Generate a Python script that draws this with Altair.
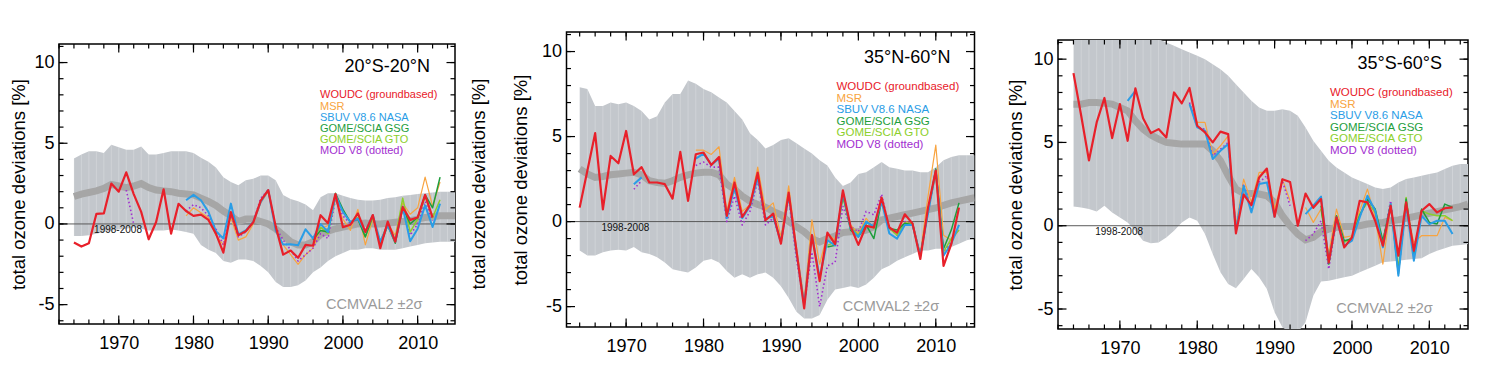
import altair as alt
import pandas as pd

FONT = "Liberation Sans"

Y_DOMAIN = [-6.2, 11.15]
X_LABELS = [1970, 1980, 1990, 2000, 2010]
Y_LABELS = [-5, 0, 5, 10]
X_MINOR = list(range(1962, 2015, 2))
X_MAJOR = [1970, 1980, 1990, 2000, 2010]
Y_MINOR = list(range(-6, 12))
Y_MAJOR = [-5, 0, 5, 10]
BAND_START = 1964

LEGEND = ["WOUDC (groundbased)", "MSR", "SBUV V8.6 NASA", "GOME/SCIA GSG",
          "GOME/SCIA GTO", "MOD V8 (dotted)"]
LEGEND_COLORS = ["#e8202a", "#f8a440", "#2a9de6", "#1e9e3c", "#8ccf2c", "#a22ed0"]
N = None

# ---------------- Panel 1: 20S-20N ----------------
p1_woudc = (1964, [-1.15, -1.4, -1.2, 0.62, 0.65, 2.5, 2.0, 3.2, 1.85, 0.75,
                   -0.95, 0.12, 2.15, -0.6, 1.25, 0.8, 0.5, 0.58, 0.25, -0.6,
                   -1.78, 0.74, -0.7, -0.45, 0.1, 1.45, 2.1, -0.15, -1.9, -1.65,
                   -2.1, -1.3, -1.35, 0.54, 0.05, 1.85, -0.2, -0.05, 0.65, -0.5,
                   0.55, -1.5, 0.15, -1.1, 1.05, 0.25, 0.4, 1.8, 0.4])
p1_msr = (1979, [0.5, 1.0, 0.7, 0.4, -0.7, -1.3, 0.4, -1.0, -0.8, 0.0,
                 1.3, 2.0, -0.2, -1.3, -1.9, -2.5, -1.9, -1.5, -0.3, -0.1,
                 1.5, 0.3, -0.4, 0.9, -1.3, 0.3, -1.1, 0.0, -0.7, 1.3,
                 0.6, 1.0, 2.9, 1.1, 2.6])
p1_sbuv = (1979, [1.47, 1.8, 1.47, 0.75, -0.45, -0.9, 1.26, -0.65, -0.4, 0.12,
                  1.36, 2.1, -0.4, -1.28, -1.26, -1.32, -0.33, -0.9, 0.0, -0.5,
                  1.8, 0.75, 0.12, 0.33, -0.5, 0.54, -1.1, -0.08, -1.1, 1.05,
                  -1.07, -0.3, 1.15, -0.19, 1.26])
p1_gsg = (1996, [-1.0, -0.4, -0.5, 1.9, 0.9, 0.1, 0.3, -0.8, 0.5, -1.3,
                 -0.1, -1.2, 1.0, 0.0, 0.4, 1.8, 1.0, 2.9])
p1_gto = (1996, [-0.9, -0.2, -0.6, 1.7, 0.8, 0.1, 0.4, -0.8, 0.4, -1.1,
                 0.0, -1.0, 1.6, -0.5, 0.3, 1.7, 0.4, 1.5])
p1_mod = (1971, [2.1, 0.0, N, N, N, N, N, N,
                 0.8, 1.2, 1.0, 0.5, -0.3, -1.3, 0.6, -0.8, -0.5, 0.1,
                 1.6, 2.1, -0.2, -1.0, -1.6, -2.3, -1.9, -1.5, -0.6, -0.9,
                 1.5, 0.5, 0.0, 0.3, -0.7, 0.4, -1.2, 0.0, -1.0, 1.1,
                 -0.7, 0.0, 1.4, 0.2])
p1_band_hi = [4.05, 4.3, 4.5, 4.5, 4.4, 4.9, 4.75, 4.6, 4.6, 4.8,
              4.3, 4.3, 4.4, 4.5, 4.5, 4.5, 4.4, 4.1, 3.85, 3.5,
              2.9, 2.6, 2.4, 2.7, 2.8, 3.0, 3.0, 2.7, 1.8, 1.55,
              1.4, 1.2, 0.85, 1.65, 1.9, 1.9, 1.75, 1.6, 1.5, 1.45,
              1.45, 1.5, 1.6, 1.65, 1.75, 1.8, 1.85, 1.9, 1.95, 2.0,
              2.0, 2.0]
p1_band_lo = [-0.75, -0.75, -0.7, -0.6, -0.5, -0.4, -0.35, -0.3, -0.2, -0.3,
              -0.4, -0.4, -0.4, -0.35, -0.4, -0.5, -0.6, -1.3, -1.6, -1.8,
              -2.3, -2.4, -2.2, -2.2, -2.3, -2.6, -3.0, -3.6, -3.9, -3.9,
              -3.8, -3.5, -3.0, -2.7, -2.3, -2.0, -1.8, -1.6, -1.6, -1.5,
              -1.5, -1.6, -1.6, -1.6, -1.5, -1.4, -1.3, -1.2, -1.15, -1.1,
              -1.1, -1.1]
p1_mean = [1.7, 1.85, 1.95, 2.05, 2.2, 2.45, 2.35, 2.25, 2.35, 2.5,
           2.25, 2.1, 2.05, 2.0, 1.9, 1.85, 1.8, 1.6, 1.4, 1.15,
           0.8, 0.5, 0.15, 0.3, 0.3, 0.15, 0.0, -0.3, -0.7, -1.1,
           -1.3, -1.3, -1.1, -0.65, -0.45, -0.3, -0.2, -0.1, 0.0, 0.05,
           0.0, 0.0, 0.05, 0.1, 0.15, 0.2, 0.3, 0.4, 0.45, 0.5,
           0.5, 0.5]

# ---------------- Panel 2: 35N-60N ----------------
p2_woudc = (1964, [0.82, 3.0, 5.2, 0.72, 3.86, 3.43, 5.33, 2.78, 3.2, 2.3,
                   2.3, 2.2, 1.35, 4.1, 1.22, 3.96, 4.06, 3.33, 3.8, 0.33,
                   2.3, 0.27, 0.98, 2.88, 0.08, 0.47, -1.3, 1.7, -1.7, -5.1,
                   -0.8, -3.5, -0.65, -1.33, 1.84, -0.3, -1.37, -0.25, -0.35, 1.41,
                   -0.35, -0.65, 0.43, -0.12, -2.2, 0.82, 3.0, -2.6, -1.33, 0.82])
p2_msr = (1979, [4.2, 4.2, 3.95, 4.4, 0.6, 2.6, 0.6, 1.0, 3.2, 0.7,
                 1.1, -0.9, 2.1, -1.5, -4.6, 0.1, -2.5, -0.7, -1.1, 1.5,
                 -0.2, -0.7, 0.2, -0.4, 1.3, -0.4, -0.7, 0.0, -0.1, -1.9,
                 1.5, 4.5, -0.8, -1.1, -0.5])
p2_sbuv = (1971, [2.2, 2.6, N, N, N, N, N, N,
                  3.7, 4.0, 3.35, 3.7, 0.2, 2.0, 0.2, 0.9, 2.6, 0.2,
                  0.3, -1.2, 1.6, -1.8, -4.9, -0.8, -3.3, -1.1, -1.4, 1.7,
                  -0.4, -0.9, 0.0, -0.3, 1.2, -0.7, -1.0, -0.2, -0.2, -2.0,
                  0.5, 3.0, -2.0, -1.3, -0.2])
p2_gsg = (1996, [-1.5, -1.4, 1.6, -0.5, -0.9, -0.2, -1.0, 1.2, -0.4, -0.5,
                 -0.1, -0.2, -2.0, 0.6, 3.1, -1.6, -0.5, 1.1])
p2_gto = (1996, [-1.4, -1.2, 1.4, -0.3, -0.8, 0.0, -0.4, 1.3, -0.4, -0.8,
                 -0.1, -0.1, -2.1, 0.7, 2.8, -1.8, -1.0, -0.5])
p2_mod = (1971, [1.9, 2.4, N, N, N, N, N, N,
                 3.3, 3.5, 3.2, 3.2, 0.0, 1.5, -0.2, 0.6, 2.4, -0.2,
                 0.2, -1.2, 1.4, -2.2, -4.9, -1.8, -5.0, -2.6, -2.4, 0.9,
                 -0.3, -0.6, 0.6, 0.4, 1.6, -0.4, -0.8, 0.0, -0.1, -2.0,
                 0.5, 3.0, -1.8, -1.2])
p2_band_hi = [7.9, 7.8, 6.8, 6.8, 7.0, 6.9, 7.0, 6.8, 6.5, 6.0,
              6.2, 7.0, 7.5, 7.5, 8.3, 8.1, 7.8, 7.6, 7.3, 7.0,
              6.5, 6.0, 5.2, 4.8, 4.3, 4.5, 4.8, 4.9, 4.6, 4.3,
              4.0, 3.6, 3.3, 2.6, 2.1, 2.3, 2.8, 2.9, 3.2, 3.5,
              3.2, 3.1, 3.0, 3.0, 2.9, 2.9, 3.2, 3.6, 3.8, 3.9,
              3.9, 3.9]
p2_band_lo = [-1.7, -2.0, -2.0, -1.8, -1.7, -1.65, -1.7, -1.5, -1.8, -1.9,
              -2.1, -2.4, -2.8, -2.9, -3.0, -2.7, -2.3, -2.2, -2.4, -2.9,
              -3.3, -3.1, -3.3, -3.1, -3.0, -3.3, -3.8, -4.5, -5.3, -5.7,
              -5.7, -5.5, -4.6, -4.0, -3.9, -3.8, -3.9, -3.7, -3.3, -2.8,
              -2.6, -2.3, -2.1, -1.9, -1.7, -1.7, -1.6, -1.6, -1.5, -1.3,
              -1.1, -1.0]
p2_mean = [3.1, 2.8, 2.6, 2.65, 2.75, 2.8, 2.85, 2.9, 2.75, 2.4,
           2.3, 2.25, 2.4, 2.6, 2.75, 2.85, 2.9, 2.9, 2.75, 2.2,
           1.9, 1.5, 1.2, 1.0, 0.85, 0.6, 0.4, 0.0, -0.3, -0.6,
           -1.0, -1.2, -1.0, -0.85, -0.65, -0.6, -0.6, -0.5, -0.3, 0.1,
           0.2, 0.3, 0.4, 0.5, 0.6, 0.7, 0.8, 0.95, 1.1, 1.2,
           1.3, 1.4]

# ---------------- Panel 3: 35S-60S ----------------
p3_woudc = (1964, [9.16, 6.6, 3.92, 6.2, 7.67, 5.26, 7.3, 5.1, 8.25, 6.45,
                   5.56, 5.8, 5.3, 8.0, 7.35, 8.27, 6.0, 5.6, 5.0, 5.65,
                   5.5, -0.46, 1.87, 1.24, 2.9, 3.43, 0.54, 2.79, 2.63, 0.0,
                   1.93, 1.08, 1.6, -2.2, 0.5, -1.3, -0.7, 1.5, 1.4, 0.3,
                   -1.2, 1.2, -1.8, 1.4, -1.5, 0.9, 1.3, 0.8, 1.05, 1.1])
p3_msr = (1979, [7.3, 6.2, 6.2, 4.3, 4.8, 5.4, 0.0, 2.8, 1.4, 3.2,
                 3.2, 1.0, 2.8, 1.5, N,
                 1.1, 0.2, 1.0, -1.7, 1.0, -0.7, -0.6, 0.9, 2.2, 0.5,
                 -2.3, 1.2, -2.5, 1.0, -1.0, -0.6, -0.6, -0.6, 0.5, 0.3])
p3_sbuv = (1971, [7.5, 8.1, N, N, N, N, N, N,
                  7.3, 5.9, 5.7, 4.0, 4.5, 4.9, -0.3, 2.4, 0.8, 2.5, 2.6, 0.5,
                  N, N, N,
                  0.7, 1.2, 1.75, -2.2, 0.5, -1.2, -0.9, 0.5, 1.8, 0.9,
                  -1.3, 1.3, -3.0, 1.3, -2.1, 0.6, 0.1, 0.3, 0.3, -0.5])
p3_gsg = (1996, [1.2, -2.3, 0.6, -0.9, -0.8, 0.6, 1.6, 1.0, -0.9, 1.3,
                 -2.9, 1.6, -1.8, 1.0, 0.2, 0.1, 1.3, 1.1])
p3_gto = (1996, [1.0, -2.0, 0.5, -1.0, -0.7, 0.7, 1.4, 0.8, -1.0, 1.2,
                 -2.6, 1.7, -1.7, 0.9, 0.7, 0.6, 0.6, 0.3])
p3_mod = (1979, [7.4, 5.9, 5.8, 4.2, 4.6, 5.0, -0.3, 2.5, 1.0, 2.6,
                 3.0, 0.6, 2.7, 1.2, N,
                 -0.9, -0.5, 0.3, -2.6, 0.4, -1.3, -0.8, 0.6, 1.5, 0.8,
                 -1.0, 1.5, -2.8, 1.4, -1.6])
p3_band_hi = [11.5, 11.5, 11.5, 11.5, 11.5, 11.5, 11.5, 11.5, 11.5, 11.4,
              11.3, 11.2, 11.0, 10.8, 10.6, 10.4, 10.2, 10.0, 9.7, 9.4,
              9.0, 8.5, 8.0, 7.5, 7.1, 6.9, 6.9, 7.0, 6.9, 6.6,
              5.9, 5.1, 4.5, 3.9, 3.5, 3.2, 2.9, 2.7, 2.5, 2.3,
              2.2, 2.3, 2.6, 2.8, 2.9, 3.0, 3.1, 3.2, 3.4, 3.6,
              3.7, 3.7]
p3_band_lo = [1.15, 1.1, 1.0, 0.85, 1.2, 0.8, 0.5, 0.2, -0.3, -0.9,
              -1.05, -1.0, -0.7, -0.3, 0.2, 0.5, 0.3, -0.5, -1.7, -2.8,
              -3.5, -3.75, -3.2, -2.6, -3.1, -3.8, -5.2, -6.1, -6.4, -6.4,
              -5.8, -4.2, -3.35, -3.3, -3.2, -3.1, -3.0, -2.8, -2.6, -2.4,
              -2.2, -2.15, -2.1, -2.05, -2.0, -1.95, -1.7, -1.5, -1.35, -1.2,
              -1.15, -1.1]
p3_mean = [7.3, 7.3, 7.4, 7.4, 7.35, 7.3, 7.1, 6.9, 6.3, 5.8,
           5.45, 5.2, 5.0, 4.95, 4.9, 4.9, 4.9, 4.9, 4.5, 3.9,
           3.0, 2.2, 1.95, 1.93, 1.9, 1.8, 1.4, 0.6, 0.0, -0.5,
           -0.85, -0.7, -0.35, -0.2, -0.1, -0.05, -0.05, 0.0, 0.1, 0.15,
           0.2, 0.3, 0.35, 0.45, 0.55, 0.65, 0.75, 0.85, 0.95, 1.05,
           1.15, 1.3]


def seg_frame(series):
    start, values = series
    rows, seg = [], 0
    for i, v in enumerate(values):
        if v is None:
            seg += 1
            continue
        rows.append({"year": start + i, "value": v, "seg": seg})
    return pd.DataFrame(rows)


def make_panel(cfg):
    W, H = cfg["W"], cfg["H"]
    xdom = cfg["xdom"]
    xs = alt.Scale(domain=xdom, nice=False, zero=False)
    ys = alt.Scale(domain=Y_DOMAIN, nice=False, zero=False)
    xaxis = alt.Axis(values=X_LABELS, format="d", labelFontSize=18, labelPadding=10,
                     ticks=False, tickSize=0, domain=False, grid=False, title=None,
                     labelFont=FONT, labelColor="#000", labelFlush=False)
    yaxis = alt.Axis(values=Y_LABELS, labelExpr="'' + datum.value", labelFontSize=18,
                     labelPadding=5, ticks=False, tickSize=0, domain=False, grid=False,
                     labelFont=FONT, labelColor="#000",
                     title="total ozone deviations [%]", titleFontSize=18.5,
                     titleFontWeight="normal", titleFont=FONT, titleColor="#000",
                     titleX=cfg["title_x"], titleY=H / 2, titleAngle=270,
                     titleAlign="center", titleBaseline="middle")

    def X(f):
        return alt.X(f"{f}:Q", scale=xs, axis=xaxis)

    def Y(f):
        return alt.Y(f"{f}:Q", scale=ys, axis=yaxis)

    n = len(cfg["hi"])
    band = pd.DataFrame({"year": list(range(BAND_START, BAND_START + n)),
                         "lo": cfg["lo"], "hi": cfg["hi"], "mean": cfg["mean"]})
    layers = []
    layers.append(alt.Chart(band).mark_area(color="#c3c7cc", clip=True)
                  .encode(x=X("year"), y=Y("lo"), y2="hi"))
    layers.append(alt.Chart(band).mark_rule(color="#ffffff", opacity=0.22,
                                            strokeWidth=1, clip=True)
                  .encode(x=X("year"), y=Y("lo"), y2="hi"))
    zero = pd.DataFrame({"value": [0]})
    layers.append(alt.Chart(zero).mark_rule(color="#5a5a5a", strokeWidth=1)
                  .encode(y=Y("value"), x=alt.value(0), x2=alt.value(W)))
    layers.append(alt.Chart(band).mark_line(color="#a6a6a6", strokeWidth=7,
                                            strokeCap="butt", clip=True)
                  .encode(x=X("year"), y=Y("mean")))

    styles = [
        ("msr", LEGEND_COLORS[1], 1.2, None),
        ("mod", LEGEND_COLORS[5], 1.6, [1.5, 2.5]),
        ("gto", LEGEND_COLORS[4], 1.5, None),
        ("gsg", LEGEND_COLORS[3], 1.5, None),
        ("sbuv", LEGEND_COLORS[2], 2.0, None),
        ("woudc", LEGEND_COLORS[0], 2.2, None),
    ]
    for key, col, sw, dash in styles:
        df = seg_frame(cfg[key])
        kw = dict(color=col, strokeWidth=sw, clip=True, strokeJoin="round")
        if dash:
            kw["strokeDash"] = dash
        layers.append(alt.Chart(df).mark_line(**kw)
                      .encode(x=X("year"), y=Y("value"), detail="seg:N"))

    one = pd.DataFrame({"t": [cfg["region"]]})
    layers.append(alt.Chart(one).mark_text(align="right", baseline="middle", fontSize=18,
                                           font=FONT, color="#000")
                  .encode(x=alt.value(W - cfg["rt_dx"]), y=alt.value(cfg["rt_y"]), text="t:N"))
    for i, (lab, col) in enumerate(zip(LEGEND, LEGEND_COLORS)):
        d = pd.DataFrame({"t": [lab]})
        layers.append(alt.Chart(d).mark_text(align="left", baseline="middle",
                                             fontSize=cfg["lg_fs"], font=FONT, color=col)
                      .encode(x=alt.value(cfg["lg_x"]),
                              y=alt.value(cfg["lg_y"] + i * cfg["lg_dy"]), text="t:N"))
    ref = pd.DataFrame({"year": [1969.9], "value": [-0.4], "t": ["1998-2008"]})
    layers.append(alt.Chart(ref).mark_text(fontSize=10, font=FONT, color="#111",
                                           baseline="middle")
                  .encode(x=X("year"), y=Y("value"), text="t:N"))
    cc = pd.DataFrame({"year": [2004.2], "value": [-5.0], "t": ["CCMVAL2 \u00b12\u03c3"]})
    layers.append(alt.Chart(cc).mark_text(fontSize=14.5, font=FONT, color="#9a9a9a",
                                          baseline="middle")
                  .encode(x=X("year"), y=Y("value"), text="t:N"))
    if cfg.get("right_title"):
        rt = pd.DataFrame({"t": ["total ozone deviations [%]"]})
        layers.append(alt.Chart(rt).mark_text(angle=270, align="center", baseline="middle",
                                              fontSize=18.5, font=FONT, color="#000")
                      .encode(x=alt.value(W + 24), y=alt.value(H / 2), text="t:N"))

    # inward ticks on all four sides
    MAJ, MIN = 8.5, 4.5
    xmin = pd.DataFrame({"t": [t for t in X_MINOR if xdom[0] <= t <= xdom[1]]})
    xmaj = pd.DataFrame({"t": X_MAJOR})
    ymin = pd.DataFrame({"t": Y_MINOR})
    ymaj = pd.DataFrame({"t": Y_MAJOR})
    tk = dict(color="#000", strokeWidth=1.2)
    for d, L in ((xmin, MIN), (xmaj, MAJ)):
        layers.append(alt.Chart(d).mark_rule(**tk)
                      .encode(x=X("t"), y=alt.value(H), y2=alt.value(H - L)))
        layers.append(alt.Chart(d).mark_rule(**tk)
                      .encode(x=X("t"), y=alt.value(0), y2=alt.value(L)))
    for d, L in ((ymin, MIN), (ymaj, MAJ)):
        layers.append(alt.Chart(d).mark_rule(**tk)
                      .encode(y=Y("t"), x=alt.value(0), x2=alt.value(L)))
        layers.append(alt.Chart(d).mark_rule(**tk)
                      .encode(y=Y("t"), x=alt.value(W), x2=alt.value(W - L)))

    sp = pd.DataFrame({"a": [0]})
    if cfg.get("ext_right"):
        e = cfg["ext_right"]
        layers.append(alt.Chart(sp).mark_rule(color="#ffffff", strokeWidth=1)
                      .encode(x=alt.value(W + e), x2=alt.value(W + e - 1),
                              y=alt.value(H / 2), y2=alt.value(H / 2 + 1)))
    panel = alt.layer(*layers).properties(width=W, height=H)

    # a blank white strip above the panel sets its height in the row
    gap = cfg["gap_top"]
    spacer = (alt.Chart(sp).mark_rule(color="#ffffff", strokeWidth=1)
              .encode(x=alt.value(W / 2), y=alt.value(0), y2=alt.value(gap))
              .properties(width=W, height=gap,
                          view=alt.ViewBackground(strokeOpacity=0, fillOpacity=0)))
    return alt.vconcat(spacer, panel, spacing=0)


cfg1 = dict(W=396, H=280, xdom=[1962, 2015], title_x=-41, region="20\u00b0S-20\u00b0N",
            rt_dx=25, rt_y=23, lg_x=261, lg_y=51.3, lg_dy=11.2, lg_fs=11, gap_top=32,
            right_title=True,
            woudc=p1_woudc, msr=p1_msr, sbuv=p1_sbuv, gsg=p1_gsg, gto=p1_gto, mod=p1_mod,
            hi=p1_band_hi, lo=p1_band_lo, mean=p1_mean)
cfg2 = dict(W=408, H=295, xdom=[1962.3, 2015], title_x=-46, region="35\u00b0N-60\u00b0N",
            rt_dx=24, rt_y=26, lg_x=270, lg_y=55, lg_dy=11.6, lg_fs=11.5, gap_top=20.25,
            ext_right=8,
            woudc=p2_woudc, msr=p2_msr, sbuv=p2_sbuv, gsg=p2_gsg, gto=p2_gto, mod=p2_mod,
            hi=p2_band_hi, lo=p2_band_lo, mean=p2_mean)
cfg3 = dict(W=410, H=289, xdom=[1962, 2015], title_x=-43, region="35\u00b0S-60\u00b0S",
            rt_dx=26, rt_y=24, lg_x=272, lg_y=53, lg_dy=11.6, lg_fs=11.5, gap_top=28.25,
            woudc=p3_woudc, msr=p3_msr, sbuv=p3_sbuv, gsg=p3_gsg, gto=p3_gto, mod=p3_mod,
            hi=p3_band_hi, lo=p3_band_lo, mean=p3_mean)

chart = (alt.hconcat(make_panel(cfg1), make_panel(cfg2), make_panel(cfg3), spacing=20.5)
         .properties(padding={"left": 0, "top": 0, "right": 0, "bottom": 0},
                     background="#ffffff")
         .configure_view(stroke="#000", strokeWidth=1.5)
         .configure_text(font=FONT))

chart.save("out.html", embed_options={"renderer": "svg", "actions": False})
